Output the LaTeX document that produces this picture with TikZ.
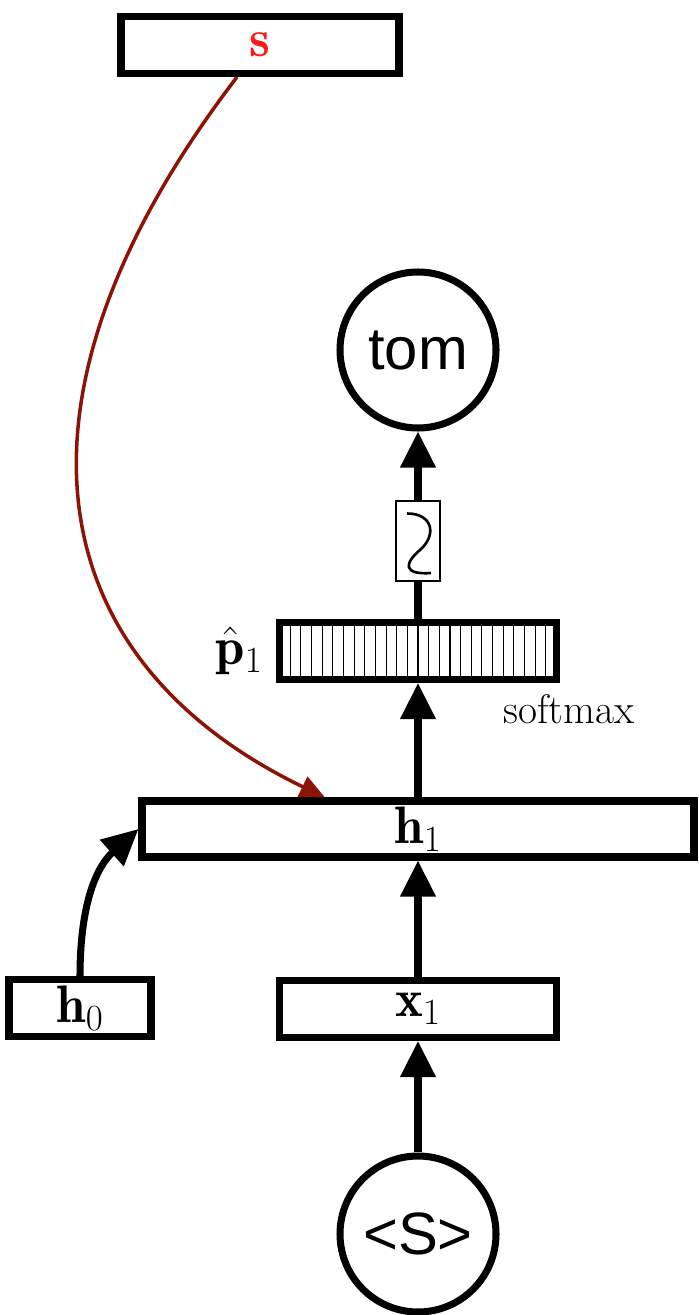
\RequirePackage{fix-cm}
\documentclass[tikz,border=0pt]{standalone}
\usepackage{fontspec}
\newfontfamily\helv{Liberation Sans}
\usetikzlibrary{arrows.meta, positioning, calc, shadows}
\definecolor{cred}{HTML}{8C1407}
\definecolor{sred}{HTML}{FF1A1A}
\tikzset{
  every picture/.style={line width=4pt},
  vec/.style={draw, fill=white, minimum width=#1, minimum height=1.14cm, inner sep=0pt,
    font=\fontsize{30}{36}\selectfont,
    drop shadow={opacity=0.3, shadow xshift=0.05cm, shadow yshift=-0.07cm}},
  vec/.default=5.54cm,
  word/.style={circle, draw, minimum size=3.12cm, inner sep=0pt, font=\helv\fontsize{34}{40}\selectfont},
  arrow/.style={-{Triangle[length=0.72cm, width=0.68cm]}},
  note/.style={font=\fontsize{23.5}{28}\selectfont},
}

\begin{document}
\begin{tikzpicture}
  \useasboundingbox (0,0) rectangle (13.98,-26.3);
  % vectors
  \node[vec=5.56cm, text=sred] (s) at (5.2,-0.9) {$\mathbf{s}$};
  \node[vec=11.04cm, minimum height=1.12cm] (h1) at (8.36,-16.58) {$\mathbf{h}_1$};
  \node[vec=2.84cm] (h0) at (1.6,-20.16) {$\mathbf{h}_0$};
  \node[vec] (x1) at (8.36,-20.18) {$\mathbf{x}_1$};
  \node[vec] (p1) at (8.36,-13.02) {};
  \foreach \i in {1,...,25}
    \draw[line width=0.6pt] ($(p1.south west)+(0.07+\i*0.2131,0.07)$) -- ($(p1.north west)+(0.07+\i*0.2131,-0.07)$);
  \node[left=0.08cm of p1, font=\fontsize{30}{36}\selectfont] (p1lbl) {$\hat{\mathbf{p}}_1$};
  \node[note, below=0.04cm of p1.south east, xshift=0.18cm] (sm) {softmax};
  % sampling
  \node[draw, line width=1.1pt, minimum width=0.88cm, minimum height=1.6cm, inner sep=0pt] (sig) at (8.36,-10.82) {};
  \draw[line width=1.5pt] (8.14,-10.27) .. controls (8.66,-10.27) and (8.74,-10.7) .. (8.4,-11.0)
    .. controls (8.08,-11.27) and (8.06,-11.5) .. (8.62,-11.46);
  % words
  \node[word] (tom) at (8.36,-7.0) {tom};
  \node[word] (bos) at (8.36,-24.68) {<S>};
  % connections
  \draw[arrow] (bos) -- (x1);
  \draw[arrow] (x1) -- (h1);
  \draw[arrow] (h1) -- (p1);
  \draw (p1) -- (sig);
  \draw[arrow] (sig) -- (tom);
  \draw[arrow] (h0.north) to[out=90, in=222] (h1.west);
  \draw[cred, line width=2pt, -{Triangle[length=0.5cm, width=0.44cm]}] ([xshift=-0.46cm]s.south)
    .. controls (-0.2,-8) and (0.8,-13.2) .. ([xshift=-1.86cm]h1.north);
\end{tikzpicture}
\end{document}
